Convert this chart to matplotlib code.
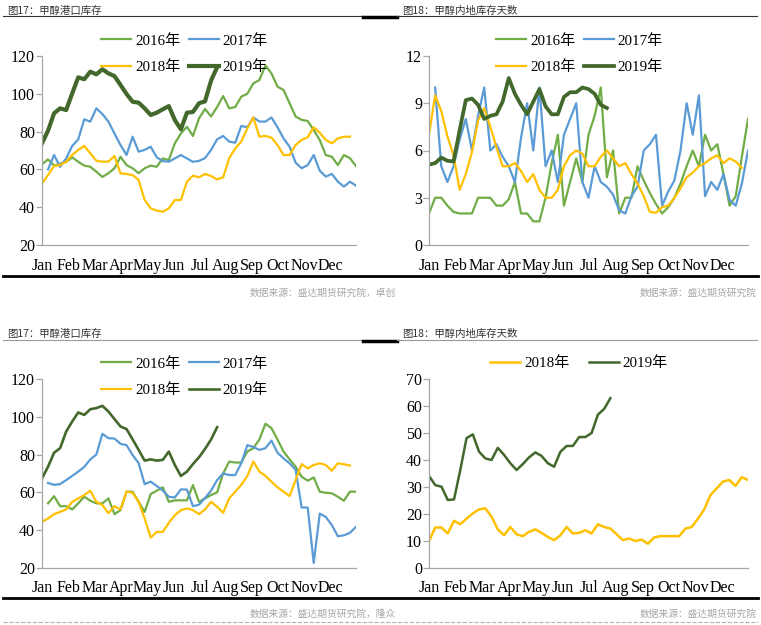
import numpy as np
import matplotlib
matplotlib.use('Agg')
import matplotlib.pyplot as plt
from matplotlib.lines import Line2D

plt.rcParams['font.family'] = ['Liberation Serif', 'Noto Sans CJK SC']

# ---- data (weekly values) ----
months = ['Jan', 'Feb', 'Mar', 'Apr', 'May', 'Jun', 'Jul', 'Aug', 'Sep', 'Oct', 'Nov', 'Dec']
nan = np.nan

# 图17 甲醇港口库存 (upper)
port_a_2016 = [62.7, 65.3, 62, 63, 64, 66.4, 64, 62, 61.4, 58.8, 56, 58, 60.6, 66.7, 62.3, 60.6, 58, 60.6,
               62, 61.4, 65.8, 65, 73.8, 79, 82.6, 77.7, 87, 92, 88, 93, 98.8, 92.3, 93, 98.5, 100, 105.5,
               107.3, 115, 110.8, 103.8, 102, 95, 88, 86.2, 85.6, 80.8, 75.5, 67.6, 66.7, 62.3, 67.6, 65.9, 61.8]
port_a_2017 = [nan, 60, 67.6, 61.4, 65.8, 72.4, 75.9, 86.5, 85.3, 92.3, 89.3, 85.3, 79, 72.9, 67.6, 77.3, 69.4,
               70.3, 72, 66.4, 64.4, 64.1, 65.8, 67.6, 65.8, 64, 64.5, 66, 70.3, 75.9, 77.7, 74.7, 74.1, 83,
               82.3, 87.5, 85.3, 85.3, 87.5, 82.3, 76.4, 72, 63.6, 60.6, 62.3, 67.6, 59.3, 56.2, 57.6, 53.5,
               50.9, 53.5, 51.4]
port_a_2018 = [52.6, 57, 61.8, 62.3, 64.1, 67.6, 70.3, 72.4, 68.5, 64.6, 64.1, 64.1, 67.1, 57.9, 57.6, 57,
               54.4, 43.8, 39.4, 38.2, 37.6, 39.4, 43.8, 43.8, 53.5, 56.7, 55.8, 57.6, 56.5, 54.7, 55.8, 65.9,
               71.1, 74.7, 81.7, 87.5, 77.3, 77.7, 76.8, 72.9, 67.6, 67.6, 72.9, 75.6, 77, 82.3, 79.4, 75.6,
               73.8, 76.4, 77.3, 77.3]
port_a_2019 = [73.8, 80.5, 89.7, 92.3, 91.4, 100.2, 108.7, 107.7, 111.7, 110.3, 113, 110.8, 109.4, 104.7,
               99.9, 95.8, 95.3, 92.3, 88.8, 90, 91.8, 93.5, 86.1, 81.2, 90, 90.4, 95, 96, 107, 114]

# 图18 甲醇内地库存天数 (upper)
days_a_2016 = [2.0, 3.0, 3.0, 2.5, 2.1, 2.0, 2.0, 2.0, 3.0, 3.0, 3.0, 2.5, 2.5, 2.9, 4.0, 2.0, 2.0, 1.5, 1.5,
               3.0, 5.2, 7.0, 2.5, 4.0, 5.5, 4.0, 7.0, 8.2, 10.0, 4.3, 6.0, 2.0, 3.0, 3.0, 5.0, 4.1, 3.3, 2.6,
               2.0, 2.4, 3.0, 3.9, 5.0, 6.0, 5.0, 7.0, 6.0, 6.4, 4.5, 2.5, 3.1, 5.6, 8.0]
days_a_2017 = [nan, 10.0, 5.0, 4.0, 5.0, 6.7, 8.0, 6.0, 8.2, 10.0, 6.0, 6.4, 5.6, 5.0, 4.0, 6.8, 9.0, 6.0,
               10.0, 5.0, 6.0, 4.0, 7.0, 8.0, 9.0, 4.0, 3.0, 5.0, 4.0, 3.7, 3.2, 2.2, 2.0, 3.1, 3.7, 6.0, 6.4,
               7.0, 2.5, 3.4, 4.1, 6.0, 9.0, 7.0, 9.5, 3.1, 4.0, 3.5, 4.5, 2.85, 2.5, 3.9, 6.0]
days_a_2018 = [7.0, 9.5, 8.5, 6.9, 5.7, 3.5, 4.5, 5.9, 7.9, 8.7, 7.5, 6.2, 5.0, 5.0, 5.2, 4.7, 4.0, 4.5, 3.5,
               3.0, 3.0, 3.5, 5.0, 5.7, 6.0, 5.8, 5.0, 5.0, 5.6, 6.0, 5.5, 5.0, 5.2, 4.5, 3.9, 3.1, 2.1, 2.05,
               2.4, 2.5, 3.0, 3.6, 4.3, 4.6, 5.0, 5.2, 5.5, 5.7, 5.2, 5.5, 5.3, 4.9]
days_a_2019 = [5.1, 5.2, 5.55, 5.35, 5.3, 7.3, 9.2, 9.3, 8.9, 8.0, 8.2, 8.3, 9.1, 10.6, 9.6, 8.9, 8.3, 9.1,
               9.9, 8.8, 8.3, 8.3, 9.4, 9.7, 9.7, 10.0, 9.9, 9.6, 8.9, 8.7]

# 图17 甲醇港口库存 (lower)
port_b_2016 = [nan, 54.2, 58, 52.7, 52.7, 51, 54.2, 57.7, 55.6, 54.2, 54.2, 56.8, 48.5, 50.6, 60.4, 60.4,
               55, 49.7, 59.1, 60.9, 62.7, 55, 55.8, 55.8, 55.8, 63.9, 55, 56.8, 58.6, 60, 70, 76.3, 75.8,
               75.8, 81.6, 83.4, 88, 96.3, 94, 88, 81.6, 77.5, 73.6, 68.3, 66.2, 67.9, 60.4, 59.8, 59.5,
               57.7, 55.6, 60.4, 60.4]
port_b_2017 = [nan, 65, 64, 64.4, 66.5, 68.7, 71, 73.5, 77.5, 80, 91, 88.7, 88.5, 85.7, 85, 79.8, 75.5,
               64.4, 65.7, 63.4, 61, 57.7, 57.3, 61.6, 61.5, 52.7, 53.5, 57, 61, 66.5, 70, 69.2, 69.2, 75.4,
               85, 84, 82.5, 83.4, 87.4, 81, 78, 75.4, 72, 52, 52, 22.7, 48.8, 47, 42.7, 36.8, 37.3, 38.6, 41.8]
port_b_2018 = [44.4, 46.2, 48.5, 49.7, 51, 55, 56.8, 58.6, 60.9, 55, 53.3, 49, 52.7, 51, 60.4, 59.8, 55,
               46.2, 36.1, 39.1, 39.1, 43.9, 47.9, 50.6, 51.5, 50.6, 48.5, 51, 55, 52.4, 49.2, 56.8, 60.4,
               64, 68.7, 76.3, 71, 68.7, 65.7, 62.7, 60.4, 58.1, 66.5, 75, 72.7, 74.5, 75.4, 74.5, 71.5,
               75.4, 74.9, 74.2]
port_b_2019 = [67.4, 73.6, 81, 83.4, 92.2, 97.5, 102.3, 101, 104, 104.6, 105.8, 102.8, 98.8, 94.9, 93.5,
               88.1, 82.5, 76.8, 77.5, 76.8, 77.2, 81.6, 74.5, 68.7, 71, 75, 78.6, 83, 88, 94.5]

# 图18 甲醇内地库存天数 (lower)
days_b_2018 = [10, 15, 15, 12.8, 17.5, 16.2, 18.3, 20.2, 21.7, 22.1, 19, 14.3, 12.1, 15.2, 12.5, 11.8,
               13.4, 14.3, 13, 11.5, 10.3, 12.1, 15.2, 12.8, 13, 14, 12.8, 16.2, 15.2, 14.6, 12.5, 10.3,
               10.9, 10, 10.5, 9, 11.3, 11.8, 11.8, 11.8, 11.8, 14.6, 15.2, 18.3, 21.7, 27, 29.5, 32, 32.6,
               30.4, 33.6, 32.6]
days_b_2019 = [34.1, 30.7, 30.1, 25.2, 25.4, 36.3, 48.1, 49.5, 43.1, 40.6, 40, 44.5, 41.9, 38.8, 36.3,
               38.5, 41, 42.8, 41.5, 38.8, 37.5, 43, 45.2, 45.2, 48.5, 48.5, 50, 56.8, 58.9, 62.9]

COLORS = {'2016年': '#70AD47', '2017年': '#5B9BD5', '2018年': '#FFC000', '2019年': '#43682B'}
AXIS_GRAY = '#A6A6A6'

W, H = 761, 625
fig = plt.figure(figsize=(W / 100, H / 100), dpi=100)


def hline(x0, x1, y, color, lw, ls='-'):
    fig.add_artist(Line2D([x0 / W, x1 / W], [1 - y / H, 1 - y / H], color=color, lw=lw, ls=ls,
                          transform=fig.transFigure))


def panel(box, series, ylim, yticks, legend_center, colspacing):
    left, top, right, bottom = box
    ax = fig.add_axes([left / W, 1 - bottom / H, (right - left) / W, (bottom - top) / H])
    n = max(len(v) for _, v, _ in series)
    lines = {}
    for label, vals, lw in series:
        lines[label], = ax.plot(np.arange(len(vals)), vals, color=COLORS[label], lw=lw,
                                solid_joinstyle='round')
    ax.set_xlim(0, n - 1)
    ax.set_ylim(*ylim)
    ax.set_yticks(yticks)
    ax.set_xticks(np.linspace(0, 0.92, 12) * (n - 1))
    ax.set_xticklabels(months)
    for s in ['top', 'right']:
        ax.spines[s].set_visible(False)
    for s in ['left', 'bottom']:
        ax.spines[s].set_color(AXIS_GRAY)
        ax.spines[s].set_linewidth(0.9)
    ax.tick_params(axis='y', length=4, width=0.9, color=AXIS_GRAY, pad=1, labelsize=11.5)
    ax.tick_params(axis='x', length=0, pad=9, labelsize=11.5)

    labels = [s[0] for s in series]
    if len(labels) == 4:
        order = [labels[0], labels[2], labels[1], labels[3]]
    else:
        order = labels
    ax.legend([lines[l] for l in order], order, loc='center', ncol=2,
              bbox_to_anchor=(legend_center[0] / W, 1 - legend_center[1] / H),
              bbox_transform=fig.transFigure, frameon=False, fontsize=10.8,
              handlelength=2.0, handletextpad=0.25, columnspacing=colspacing,
              labelspacing=0.85, borderpad=0, borderaxespad=0)
    return ax


panel((42, 56, 356, 245),
      [('2016年', port_a_2016, 1.6), ('2017年', port_a_2017, 1.6),
       ('2018年', port_a_2018, 1.6), ('2019年', port_a_2019, 3.0)],
      (20, 120), range(20, 121, 20), (184.5, 54), 0.55)

panel((429, 56, 748, 245),
      [('2016年', days_a_2016, 1.6), ('2017年', days_a_2017, 1.6),
       ('2018年', days_a_2018, 1.6), ('2019年', days_a_2019, 2.7)],
      (0, 12), range(0, 13, 3), (579.5, 54), 0.55)

panel((42, 379, 356, 568),
      [('2016年', port_b_2016, 1.6), ('2017年', port_b_2017, 1.6),
       ('2018年', port_b_2018, 1.6), ('2019年', port_b_2019, 1.9)],
      (20, 120), range(20, 121, 20), (184.5, 377), 0.55)

panel((429, 379, 748, 568),
      [('2018年', days_b_2018, 1.8), ('2019年', days_b_2019, 1.8)],
      (0, 70), range(0, 71, 10), (579, 363), 1.3)

# ---- titles, rules and source notes ----
title_kw = dict(fontsize=7.5, family=['Noto Sans CJK SC'], color='#333333', va='center')
fig.text(7 / W, 1 - 11 / H, '图17：甲醇港口库存', **title_kw)
fig.text(402 / W, 1 - 11 / H, '图18：甲醇内地库存天数', **title_kw)
fig.text(7 / W, 1 - 334 / H, '图17：甲醇港口库存', **title_kw)
fig.text(402 / W, 1 - 334 / H, '图18：甲醇内地库存天数', **title_kw)

hline(3, 363, 16, '#333333', 0.8)
hline(363, 397, 17, 'black', 2.5)
hline(397, 757, 16, '#333333', 0.8)
hline(3, 758, 276, 'black', 2)

hline(3, 363, 340, '#9A9A9A', 0.8)
hline(363, 397, 341, 'black', 2.5)
hline(397, 757, 340, '#9A9A9A', 0.8)
hline(3, 758, 598, 'black', 2)
hline(3, 758, 622, '#B0B0B0', 0.8, '--')

src_kw = dict(fontsize=7, family=['Noto Sans CJK SC'], color='#A6A6A6', va='center')
fig.text(250 / W, 1 - 293 / H, '数据来源：盛达期货研究院，卓创', **src_kw)
fig.text(757 / W, 1 - 293 / H, '数据来源：盛达期货研究院', ha='right', **src_kw)
fig.text(250 / W, 1 - 614 / H, '数据来源：盛达期货研究院，隆众', **src_kw)
fig.text(757 / W, 1 - 614 / H, '数据来源：盛达期货研究院', ha='right', **src_kw)

fig.savefig('out.png', dpi=100)
